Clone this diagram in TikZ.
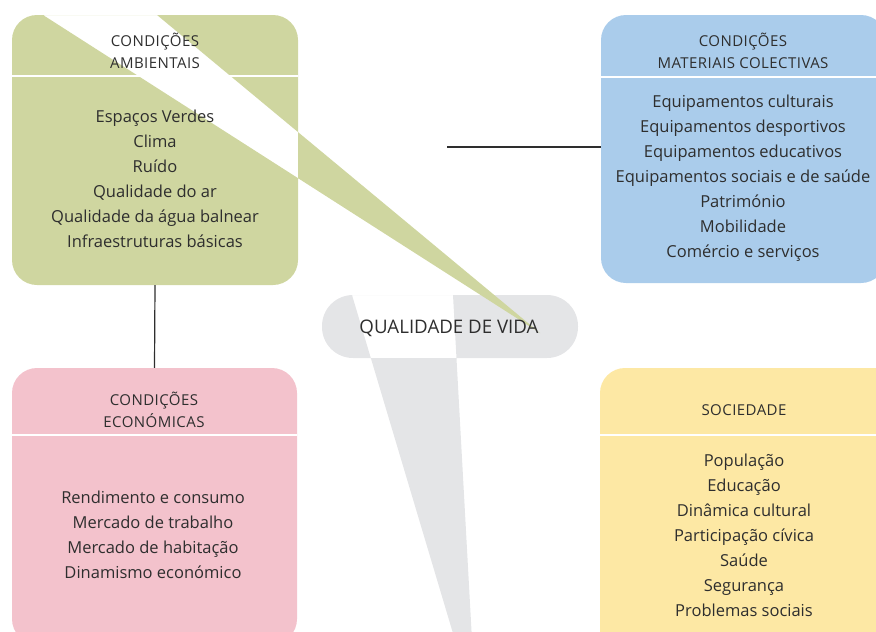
\documentclass[tikz,border=0pt]{standalone}
\usepackage{fontspec}
\setmainfont{Open Sans}
\definecolor{envgreen}{HTML}{CFD6A0}
\definecolor{matblue}{HTML}{AACCEB}
\definecolor{ecopink}{HTML}{F3C2CC}
\definecolor{socyellow}{HTML}{FDE8A4}
\definecolor{pillgray}{HTML}{E4E5E7}
\definecolor{ink}{HTML}{2E2E2E}
\begin{document}
\begin{tikzpicture}[x=1pt,y=-1pt,
  head/.style={text=ink, font=\fontsize{15}{22}\selectfont\addfontfeatures{LetterSpace=3}, align=center, inner sep=0pt},
  body/.style={text=ink, font=\fontsize{16.5}{25}\selectfont, align=center, inner sep=0pt},
  pilltext/.style={text=ink, font=\fontsize{18.7}{22}\selectfont, inner sep=0pt},
  boxarea/.style={draw=none, rectangle, inner sep=0pt},
  divider/.style={white, line width=1.5pt},
  link/.style={draw=ink, line width=1.2pt}]
\clip (0,0) rectangle (876,632);
% central pill with its wedge
\fill[pillgray, even odd rule] [rounded corners=31pt] (322,295) rectangle (578,358)
  [sharp corners] (352,295) -- (453,295) -- (472,640) -- (455,640) -- cycle;
% boxes
\fill[matblue] [rounded corners=25pt] (601,15) rectangle (886,283);
\fill[ecopink] [rounded corners=25pt] (12,368) rectangle (297,644);
\fill[socyellow] [rounded corners=25pt] (600,368) rectangle (900,660);
\fill[envgreen, even odd rule] [rounded corners=25pt] (12,15) rectangle (298,285)
  [sharp corners] (43,15) -- (157,15) -- (540,333) -- cycle;
% dividers
\draw[divider] (12,76) -- (298,76);
\draw[divider] (601,77) -- (886,77);
\draw[divider] (12,435) -- (297,435);
\draw[divider] (600,435) -- (900,435);
% named box areas
\node[boxarea, minimum width=286pt, minimum height=270pt] (env) at (155,150) {};
\node[boxarea, minimum width=285pt, minimum height=268pt] (mat) at (743.5,149) {};
\node[boxarea, minimum width=285pt, minimum height=276pt] (eco) at (154.5,506) {};
\node[boxarea, minimum width=300pt, minimum height=292pt] (soc) at (750,514) {};
\node[boxarea, minimum width=256pt, minimum height=63pt] (qv) at (450,326.5) {};
% connectors
\draw[link] (env.south) -- (eco.north);
\coordinate (hl) at (447,147);
\draw[link] (hl) -- (hl -| mat.west);
% texts
\node[head] (envh) at (155,51) {CONDIÇÕES\\AMBIENTAIS};
\node[body] (envb) at (155,178.5) {Espaços Verdes\\Clima\\Ruído\\Qualidade do ar\\Qualidade da água balnear\\Infraestruturas básicas};
\node[head] (math) at (743,51) {CONDIÇÕES\\MATERIAIS COLECTIVAS};
\node[body] (matb) at (743,178.5) {Equipamentos culturais\\Equipamentos desportivos\\Equipamentos educativos\\Equipamentos sociais e de saúde\\Património\\Mobilidade\\Comércio e serviços};
\node[head] (ecoh) at (154,409.5) {CONDIÇÕES\\ECONÓMICAS};
\node[body] (ecob) at (153,534.5) {Rendimento e consumo\\Mercado de trabalho\\Mercado de habitação\\Dinamismo económico};
\node[head] (soch) at (744,410) {SOCIEDADE};
\node[body] (socb) at (744,535) {População\\Educação\\Dinâmica cultural\\Participação cívica\\Saúde\\Segurança\\Problemas sociais};
\node[pilltext] (qvt) at (449,328.5) {QUALIDADE DE VIDA};
\end{tikzpicture}
\end{document}
